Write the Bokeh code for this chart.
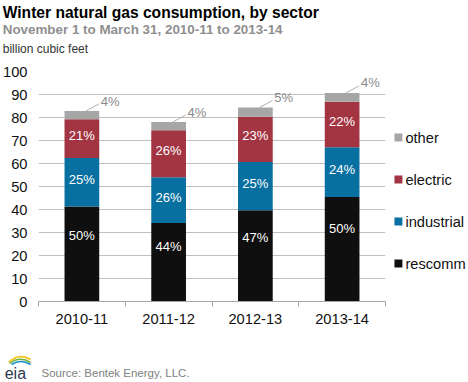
from bokeh.plotting import figure
from bokeh.models import ColumnDataSource, FixedTicker, Range1d
from bokeh.core.properties import value
from bokeh.embed import file_html
from bokeh.resources import INLINE

# ---------------- data ----------------
seasons = ["2010-11", "2011-12", "2012-13", "2013-14"]
sectors = ["rescomm", "industrial", "electric", "other"]
rescomm = [41.3, 34.1, 39.7, 45.4]
industrial = [21.1, 19.9, 21.0, 21.7]
electric = [16.8, 20.5, 19.6, 19.7]
other = [3.6, 3.5, 4.0, 3.9]
rescomm_pct = ["50%", "44%", "47%", "50%"]
industrial_pct = ["25%", "26%", "25%", "24%"]
electric_pct = ["21%", "26%", "23%", "22%"]
other_pct = ["4%", "4%", "5%", "4%"]
y_ticks = [0, 10, 20, 30, 40, 50, 60, 70, 80, 90, 100]

colors = ["#0f0f0f", "#0770a0", "#a33442", "#a6a6a6"]
FONT = value("Liberation Sans")

# ---------------- layout ----------------
W, H = 468, 382
FL, FR, FT, FB = 36, 385, 71, 301
X0, X1 = -0.5, 3.5
Y0, Y1 = 0, 100
XPX = (X1 - X0) / (FR - FL)
YPX = (Y1 - Y0) / (FB - FT)


def dx(px):
    return X0 + (px - FL) * XPX


def dy(py):
    return Y0 + (FB - py) * YPX


p = figure(width=W, height=H, x_range=Range1d(X0, X1), y_range=Range1d(Y0, Y1),
           output_backend="svg", toolbar_location=None,
           min_border_left=FL, min_border_right=W - FR,
           min_border_top=FT, min_border_bottom=H - FB)
p.outline_line_color = None
p.background_fill_color = "white"
p.border_fill_color = "white"

xs = list(range(len(seasons)))
src = ColumnDataSource(dict(x=xs, rescomm=rescomm, industrial=industrial,
                            electric=electric, other=other))
rs = p.vbar_stack(sectors, x="x", width=0.4, source=src,
                  fill_color=colors, line_color=None)

# in-bar percentage labels
lx, ly, lt = [], [], []
for i in xs:
    r, ind, el = rescomm[i], industrial[i], electric[i]
    lx += [i, i, i]
    ly += [r * 0.7, r + ind / 2 + 1, r + ind + el / 2 + 1.5]
    lt += [rescomm_pct[i], industrial_pct[i], electric_pct[i]]
p.text(x=lx, y=ly, text=lt, text_color="white", text_font=FONT,
       text_font_size="13px", text_align="center", text_baseline="middle")

# "other" labels with leader lines
tops = [rescomm[i] + industrial[i] + electric[i] + other[i] for i in xs]
p.segment(x0=[i + 4 * XPX for i in xs], y0=tops,
          x1=[i + 17 * XPX for i in xs], y1=[t + 7 * YPX for t in tops],
          line_color="#b0b0b0", line_width=1)
p.text(x=[i + 19 * XPX for i in xs], y=[t + 10 * YPX for t in tops], text=other_pct,
       text_color="#8a8a8a", text_font=FONT, text_font_size="13px",
       text_align="left", text_baseline="middle")

# axes
p.xaxis.ticker = FixedTicker(ticks=xs, minor_ticks=[x - 0.5 for x in xs] + [xs[-1] + 0.5])
p.xaxis.major_label_overrides = {i: s for i, s in enumerate(seasons)}
p.xaxis.major_tick_line_color = None
p.xaxis.major_tick_out = 0
p.xaxis.major_tick_in = 0
p.xaxis.minor_tick_line_color = "#a6a6a6"
p.xaxis.minor_tick_out = 5
p.xaxis.minor_tick_in = 0
p.xaxis.axis_line_color = "#a6a6a6"
p.xaxis.major_label_text_font = "Liberation Sans"
p.xaxis.major_label_text_font_size = "11pt"
p.xaxis.major_label_text_color = "#111111"
p.xaxis.major_label_standoff = 7

p.yaxis.ticker = FixedTicker(ticks=y_ticks)
p.yaxis.axis_line_color = None
p.yaxis.major_tick_line_color = None
p.yaxis.minor_tick_line_color = None
p.yaxis.major_tick_out = 0
p.yaxis.major_tick_in = 0
p.yaxis.major_label_text_font = "Liberation Sans"
p.yaxis.major_label_text_font_size = "11pt"
p.yaxis.major_label_text_color = "#111111"
p.yaxis.major_label_standoff = 11

p.xgrid.grid_line_color = None
p.ygrid.grid_line_color = "#c0c0c0"

# legend (drawn as overlay glyphs so it can sit outside the frame)
leg_order = [3, 2, 1, 0]
leg_y = [137, 179, 221, 263]
for k, yy in zip(leg_order, leg_y):
    p.quadratic(x0=[dx(394)], y0=[dy(yy)], cx=[dx(398)], cy=[dy(yy)],
                x1=[dx(402)], y1=[dy(yy)], line_color=colors[k], line_width=8,
                line_cap="butt", level="overlay")
p.text(x=[dx(405)] * 4, y=[dy(v) for v in leg_y], text=[sectors[k] for k in leg_order],
       text_font=FONT, text_font_size="11pt", text_color="#111111",
       text_align="left", text_baseline="middle", level="overlay")

# titles and notes


def note(px, py, txt, size, color, style="normal", baseline="alphabetic"):
    p.text(x=[dx(px)], y=[dy(py)], text=[txt], text_font=FONT, text_font_size=size,
           text_font_style=style, text_color=color, text_align="left",
           text_baseline=baseline, level="overlay")


note(0, 12, "Winter natural gas consumption, by sector", "15.6px", "#000000", "bold")
note(0, 29, "November 1 to March 31, 2010-11 to 2013-14", "13.4px", "#8f8f8f", "bold")
note(0, 48, "billion cubic feet", "12px", "#333333")
note(39, 372, "Source: Bentek Energy, LLC.", "11.5px", "#7f7f7f", baseline="middle")
note(2, 373, "eia", "16px", "#2b3a4f")

# logo swooshes
for (sx0, sy0, scx, scy, sx1, sy1, c) in [
        (6, 362, 16, 352, 28, 359, "#f2c21b"),
        (7, 363, 17, 355, 28, 362, "#6fb43f"),
        (9, 364, 18, 358, 28, 364, "#1b8fd0")]:
    p.quadratic(x0=[dx(sx0)], y0=[dy(sy0)], cx=[dx(scx)], cy=[dy(scy)],
                x1=[dx(sx1)], y1=[dy(sy1)], line_color=c, line_width=1.6, level="overlay")

open("out.html", "w").write(file_html(p, INLINE))
